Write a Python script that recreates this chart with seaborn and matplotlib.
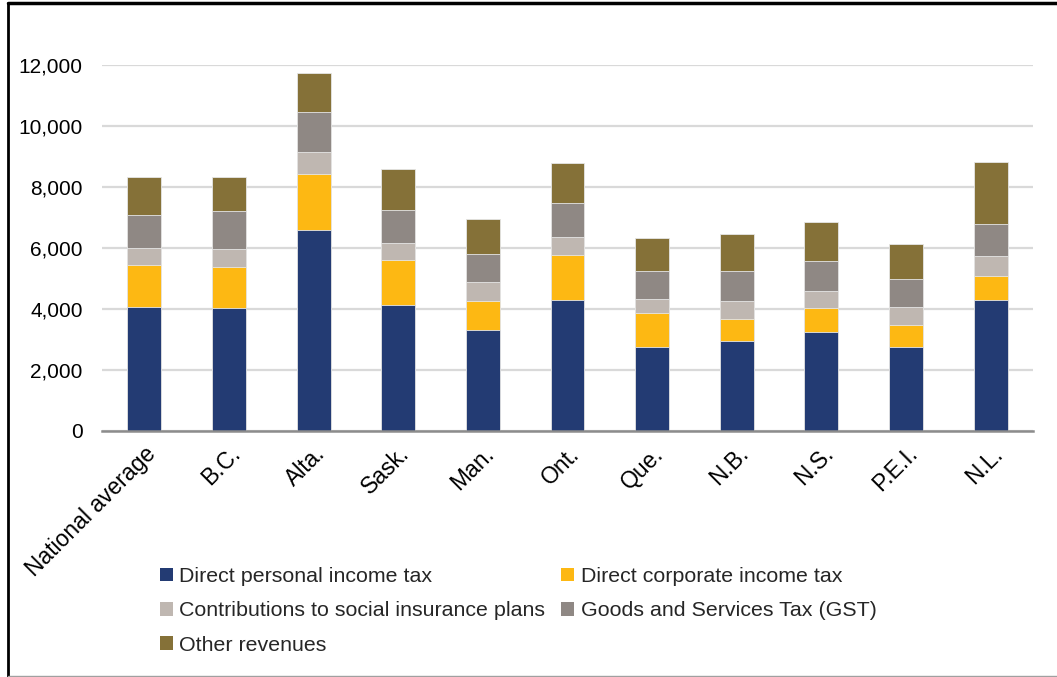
import matplotlib
matplotlib.use("Agg")
import matplotlib.pyplot as plt
from matplotlib.lines import Line2D
import seaborn as sns
import pandas as pd
import numpy as np

provinces = ["National average", "B.C.", "Alta.", "Sask.", "Man.", "Ont.",
             "Que.", "N.B.", "N.S.", "P.E.I.", "N.L."]
personal = [4065, 4022, 6583, 4131, 3324, 4294, 2757, 2940, 3246, 2754, 4284]
corporate = [1363, 1362, 1831, 1471, 948, 1483, 1112, 721, 798, 721, 798]
social = [567, 589, 734, 578, 600, 588, 447, 590, 557, 580, 656]
gst = [1089, 1242, 1311, 1068, 937, 1112, 916, 984, 984, 918, 1060]
other = [1243, 1123, 1279, 1341, 1145, 1300, 1111, 1235, 1267, 1158, 2033]

series_names = ["Direct personal income tax", "Direct corporate income tax",
                "Contributions to social insurance plans",
                "Goods and Services Tax (GST)", "Other revenues"]
series_vals = [personal, corporate, social, gst, other]
colors = ["#233B73", "#FDB813", "#BFB7B1", "#8F8884", "#857138"]

df = pd.DataFrame({"Province": provinces})
for n, v in zip(series_names, series_vals):
    df[n] = v
cum = df[series_names].cumsum(axis=1)
for n in series_names:
    df["cum_" + n] = cum[n]

sns.set_theme(style="white")
plt.rcParams["font.family"] = ["Liberation Sans", "DejaVu Sans"]

fig = plt.figure(figsize=(10.57, 6.77), dpi=100)
ax = fig.add_axes([102 / 1057, 1 - 431 / 677, (1033 - 102) / 1057, (431 - 65) / 677])

handles = {}
for n, c in reversed(list(zip(series_names, colors))):
    sns.barplot(data=df, x="Province", y="cum_" + n, color=c, saturation=1,
                width=0.4, ax=ax, edgecolor="#E6E6E6", linewidth=0.6, zorder=2)
    handles[n] = ax.patches[-1]

ax.set_ylim(0, 12000)
ax.set_yticks(np.arange(0, 12001, 2000))
ax.set_yticklabels([f"{int(t):,}" for t in np.arange(0, 12001, 2000)])
ax.set_xlabel("")
ax.set_ylabel("")
ax.yaxis.grid(True, color="#D9D9D9", linewidth=1.6)
ax.set_axisbelow(True)
for s in ["top", "right", "left"]:
    ax.spines[s].set_visible(False)
ax.spines["bottom"].set_color("#8C8C8C")
ax.spines["bottom"].set_linewidth(1.8)
ax.tick_params(axis="y", length=0, pad=14, labelsize=15, labelcolor="black")
ax.tick_params(axis="x", length=0, pad=8, labelsize=16.5, labelcolor="black")
plt.setp(ax.get_xticklabels(), rotation=45, ha="right", rotation_mode="anchor")

# row-major legend order for 2 columns (matplotlib fills column-wise)
order = [0, 2, 4, 1, 3]
leg = fig.legend([handles[series_names[i]] for i in order],
                 [series_names[i] for i in order],
                 loc="upper left", bbox_to_anchor=(160 / 1057, 1 - 567 / 677),
                 ncol=2, frameon=False, fontsize=15.4, handlelength=0.6,
                 handleheight=0.6, handletextpad=0.3, columnspacing=0.75,
                 labelspacing=0.72, borderpad=0, borderaxespad=0)
for h in leg.legend_handles:
    h.set_edgecolor("none")

fig.add_artist(Line2D([8 / 1057, 8 / 1057], [0, 1 - 3 / 677], color="black", lw=2))
fig.add_artist(Line2D([8 / 1057, 1], [1 - 3 / 677, 1 - 3 / 677], color="black", lw=2.5))
fig.add_artist(Line2D([8 / 1057, 1], [1 / 677, 1 / 677], color="#A0A0A0", lw=1))

fig.savefig("out.png", dpi=100, facecolor="white")
